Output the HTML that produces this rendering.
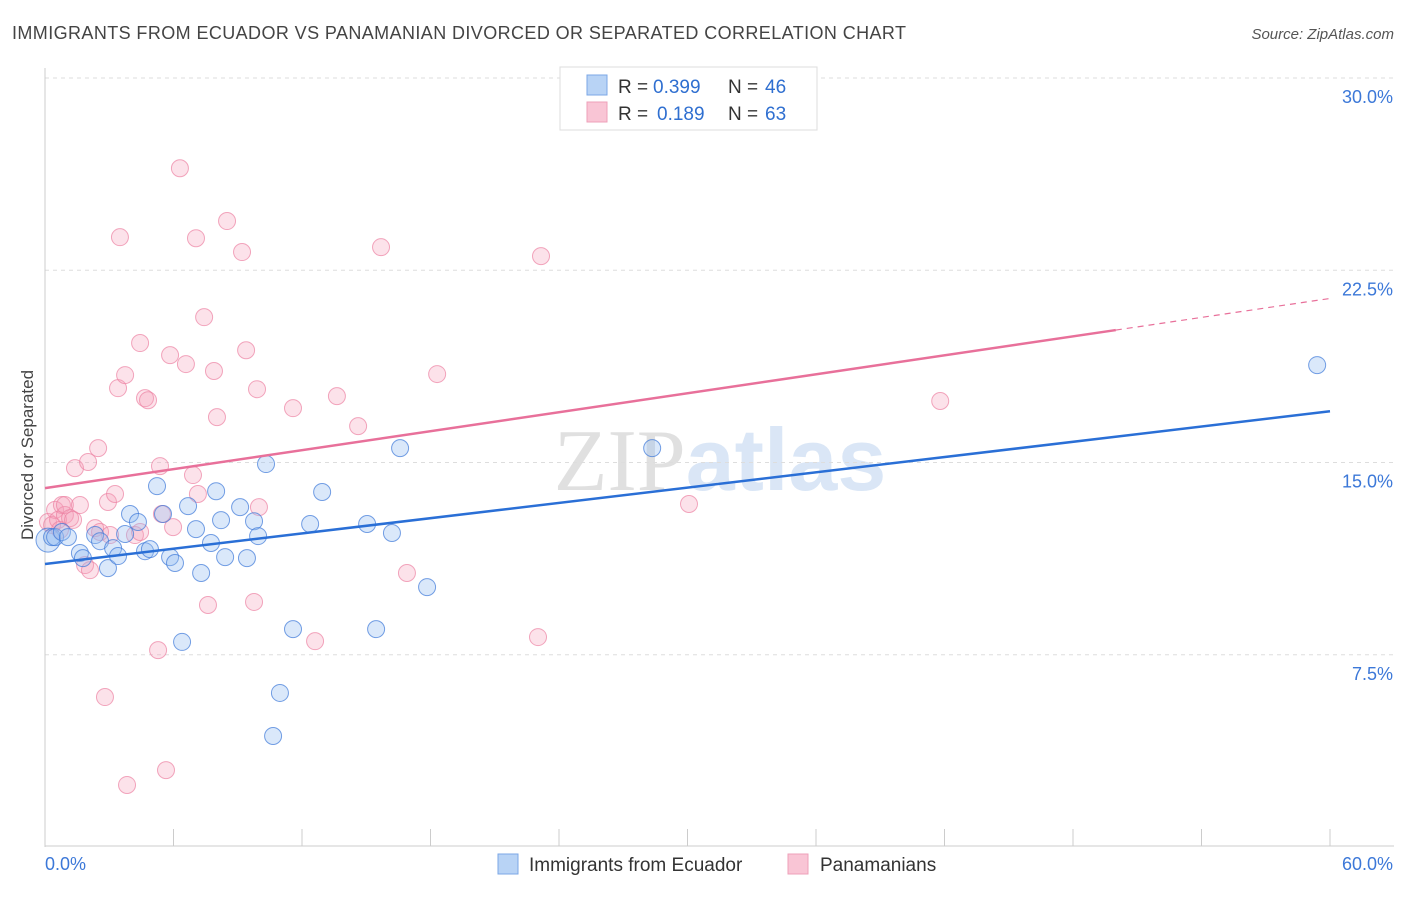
<!DOCTYPE html>
<html><head><meta charset="utf-8"><style>
body{margin:0;background:#fff;font-family:"Liberation Sans",sans-serif;}
svg text{font-family:"Liberation Sans",sans-serif;}
</style></head><body>
<svg id="chart" width="1406" height="892" xmlns="http://www.w3.org/2000/svg">
<text x="12" y="39" font-size="18" fill="#444" textLength="894" lengthAdjust="spacing">IMMIGRANTS FROM ECUADOR VS PANAMANIAN DIVORCED OR SEPARATED CORRELATION CHART</text>
<text x="1394" y="39" font-size="15" fill="#555" text-anchor="end" font-style="italic">Source: ZipAtlas.com</text>
<text x="720" y="490" font-size="88" text-anchor="middle" opacity="0.55"><tspan font-family="Liberation Serif" fill="#c8c8c8">ZIP</tspan><tspan fill="#bcd3ef" font-weight="bold">atlas</tspan></text>
<g id="grid"></g>
<g id="axes"></g>
<g id="marks"></g>
<text transform="translate(33,455) rotate(-90)" font-size="17" fill="#444" text-anchor="middle">Divorced or Separated</text>
<g>
<rect x="560" y="67" width="257" height="63" fill="#fff" stroke="#ddd"/>
<rect x="587" y="75" width="20" height="20" fill="#b8d3f5" stroke="#7ba7e6"/>
<rect x="587" y="102" width="20" height="20" fill="#f9c5d5" stroke="#eea0b9"/>
<text x="618" y="93" font-size="19" fill="#333">R =</text>
<text x="653" y="93" font-size="19" fill="#2f6fd0">0.399</text>
<text x="728" y="93" font-size="19" fill="#333">N =</text>
<text x="765" y="93" font-size="19" fill="#2f6fd0">46</text>
<text x="618" y="120" font-size="19" fill="#333">R =</text>
<text x="657" y="120" font-size="19" fill="#2f6fd0">0.189</text>
<text x="728" y="120" font-size="19" fill="#333">N =</text>
<text x="765" y="120" font-size="19" fill="#2f6fd0">63</text>
</g>
<g>
<rect x="498" y="854" width="20" height="20" fill="#b8d3f5" stroke="#7ba7e6"/>
<text x="529" y="871" font-size="19" fill="#333">Immigrants from Ecuador</text>
<rect x="788" y="854" width="20" height="20" fill="#f9c5d5" stroke="#eea0b9"/>
<text x="820" y="871" font-size="19" fill="#333">Panamanians</text>
</g>
</svg>
<script>
const yTicks=[7.5,15,22.5,30];
const yTickLabels=["7.5%","15.0%","22.5%","30.0%"];
const xTicks=[0,6,12,18,24,30,36,42,48,54,60];
const blueX=[0.14,0.33,0.47,0.79,1.07,1.63,1.77,2.34,2.57,2.94,3.18,3.41,3.74,3.97,4.34,4.67,4.90,5.23,5.51,5.84,6.07,6.40,6.68,7.05,7.29,7.75,7.99,8.22,8.41,9.11,9.43,9.76,9.95,10.32,10.65,10.97,11.58,12.38,12.94,15.04,15.46,16.20,16.58,17.84,28.35,59.40];
const blueY=[11.97,12.09,12.09,12.29,12.09,11.47,11.27,12.17,11.93,10.88,11.66,11.35,12.21,12.99,12.68,11.54,11.62,14.08,12.99,11.31,11.08,8.00,13.30,12.40,10.69,11.86,13.88,12.75,11.31,13.26,11.27,12.71,12.13,14.94,4.33,6.01,8.50,12.60,13.85,12.60,8.50,12.25,15.56,10.14,15.56,18.80];
const pinkX=[0.14,0.33,0.47,0.61,0.70,0.79,0.93,0.93,1.17,1.31,1.40,1.63,1.87,2.01,2.10,2.34,2.48,2.57,2.80,2.94,3.04,3.27,3.41,3.50,3.74,3.83,4.20,4.44,4.44,4.67,4.81,5.28,5.37,5.46,5.65,5.84,5.98,6.30,6.58,6.91,7.05,7.14,7.43,7.61,7.89,8.03,8.50,9.20,9.39,9.76,9.90,9.99,11.58,12.61,13.63,14.62,15.69,16.90,18.31,23.02,23.16,30.07,41.80];
const pinkY=[12.68,12.56,13.15,12.76,12.37,13.34,12.95,13.34,12.83,12.76,14.78,13.34,11.00,15.02,10.80,12.44,15.56,12.29,5.85,13.46,12.17,13.77,17.90,23.79,18.41,2.42,12.17,12.29,19.66,17.51,17.43,7.68,14.86,12.99,3.00,19.19,12.48,26.48,18.84,14.51,23.75,13.77,20.67,9.44,18.57,16.77,24.42,23.21,19.38,9.56,17.86,13.26,17.12,8.03,17.59,16.42,23.40,10.69,18.45,8.19,23.05,13.38,17.40];
const blueTrend=[11.04,17.0];
const pinkTrend=[14.0,21.4];
const pinkSolidEnd=50;
const NS="http://www.w3.org/2000/svg";
const sx=v=>45+v/60*1285;
const sy=v=>847-v/30*769;
function mk(tag,attrs,parent){const e=document.createElementNS(NS,tag);for(const k in attrs)e.setAttribute(k,attrs[k]);document.getElementById(parent).appendChild(e);return e;}
yTicks.forEach((t,i)=>{
 const g=mk('line',{x1:45,x2:1394,y1:sy(t),y2:sy(t),stroke:'#ddd','stroke-dasharray':'4,4'},'grid');
 
 
 const l=mk('text',{x:1393,y:sy(t)+25,'font-size':18,fill:'#3c78d8','text-anchor':'end'},'axes');
 l.textContent=yTickLabels[i];
 
 
});
const ax=mk('line',{x1:45,x2:45,y1:68,y2:847,stroke:'#ccc'},'axes');


const xa=mk('line',{x1:45,x2:1394,y1:846,y2:846,stroke:'#ccc'},'axes');


xTicks.forEach(t=>{
 const k=mk('line',{x1:sx(t),x2:sx(t),y1:829,y2:846,stroke:'#ccc'},'axes');
 
 
});
[["0.0%",45,"start"],["60.0%",1393,"end"]].forEach(a=>{
 const l=mk('text',{x:a[1],y:870,'font-size':18,fill:'#3c78d8','text-anchor':a[2]},'axes');
 l.textContent=a[0];
 
 
});
pinkX.forEach((x,i)=>{
 const c=mk('circle',{cx:sx(x),cy:sy(pinkY[i]),r:8.5,fill:'rgba(244,160,185,0.3)',stroke:'rgba(236,130,163,0.7)','stroke-width':1},'marks');
 
 
});
blueX.forEach((x,i)=>{
 const c=mk('circle',{cx:sx(x),cy:sy(blueY[i]),r:i===0?12:8.5,fill:'rgba(150,190,240,0.35)',stroke:'rgba(60,120,216,0.7)','stroke-width':1},'marks');
 
 
});
const bt=mk('line',{x1:sx(0),y1:sy(blueTrend[0]),x2:sx(60),y2:sy(blueTrend[1]),stroke:'#2a6fd6','stroke-width':2.5},'marks');


const pm=pinkTrend[0]+(pinkTrend[1]-pinkTrend[0])*pinkSolidEnd/60;
const pt=mk('line',{x1:sx(0),y1:sy(pinkTrend[0]),x2:sx(pinkSolidEnd),y2:sy(pm),stroke:'#e8709a','stroke-width':2.5},'marks');


const pd=mk('line',{x1:sx(pinkSolidEnd),y1:sy(pm),x2:sx(60),y2:sy(pinkTrend[1]),stroke:'#e8709a','stroke-width':1.2,'stroke-dasharray':'6,5'},'marks');


</script>
</body></html>
